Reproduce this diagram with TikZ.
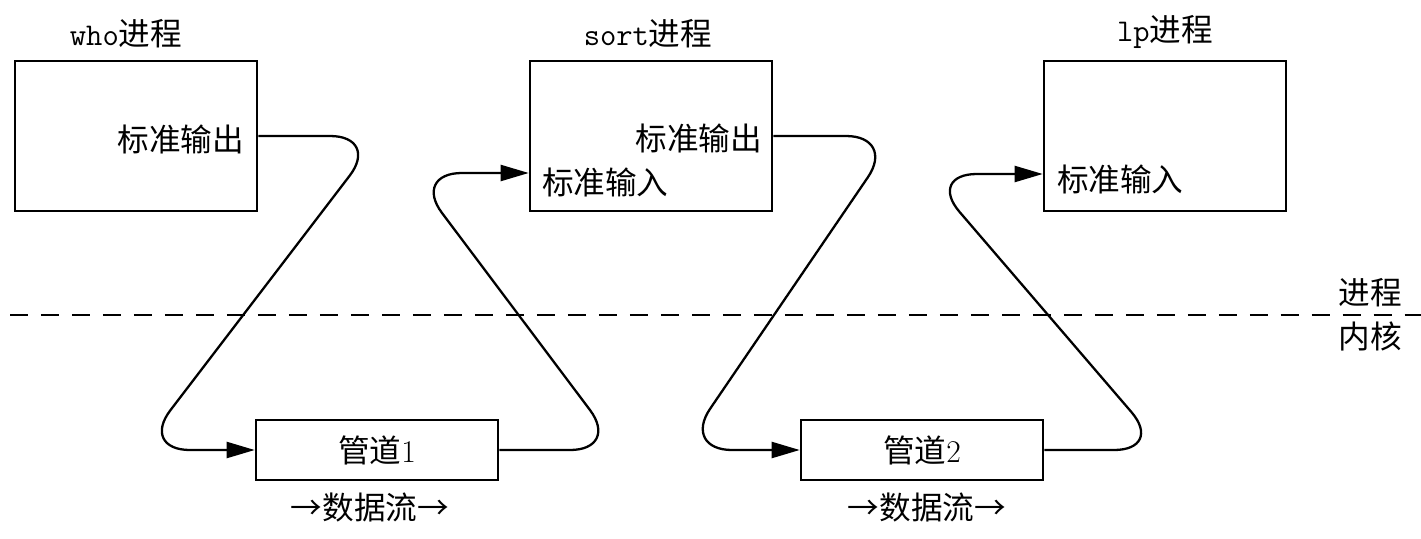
\documentclass[tikz,border=0pt]{standalone}
\usepackage{fontspec}
\newfontfamily\cjk{Noto Sans CJK SC}
\usetikzlibrary{positioning, arrows.meta}

\begin{document}
\begin{tikzpicture}[x=0.02cm, y=-0.02cm, font=\fontsize{18}{21}\selectfont]
    \tikzstyle{proc} = [rectangle, minimum width=4.84cm, minimum height=3cm, draw=black, line width=1.5pt]
    \tikzstyle{pipe} = [rectangle, minimum width=4.84cm, minimum height=1.2cm, draw=black, line width=1.5pt]
    \tikzstyle{flow} = [line width=1.3pt, rounded corners=1cm, -{Triangle[length=0.56cm, width=0.32cm]}]
    \tikzstyle{port} = [inner sep=0pt, font=\fontsize{18}{21}\selectfont\cjk]

    \useasboundingbox (0,0) rectangle (1421,538);

    % processes and pipes
    \node (who) [proc] at (136,136) {};
    \node (sort) [proc] at (651,136) {};
    \node (lp) [proc] at (1165,136) {};
    \node (pipe1) [pipe] at (377,450) {{\cjk 管道}1};
    \node (pipe2) [pipe] at (922,450) {{\cjk 管道}2};

    \node (whotitle) [inner sep=0pt, above=0.22cm of who, xshift=-0.2cm] {\ttfamily who\cjk 进程};
    \node (sorttitle) [inner sep=0pt, above=0.22cm of sort, xshift=-0.06cm] {\ttfamily sort\cjk 进程};
    \node (lptitle) [inner sep=0pt, above=0.22cm of lp] {\ttfamily lp\cjk 进程};

    % ports
    \node (whoout) [port, left=0.28cm of who.east, yshift=-0.06cm] {标准输出};
    \node (sortout) [port, left=0.22cm of sort.east, yshift=-0.04cm] {标准输出};
    \coordinate (sortin) at ([yshift=-0.74cm]sort.west);
    \coordinate (lpin) at ([yshift=-0.76cm]lp.west);
    \node (sortinlbl) [port, right=0.26cm of sortin, yshift=-0.18cm] {标准输入};
    \node (lpinlbl) [port, right=0.28cm of lpin, yshift=-0.1cm] {标准输入};

    \node (flow1) [port, below=0.22cm of pipe1, xshift=-0.14cm] {→数据流→};
    \node (flow2) [port, below=0.22cm of pipe2, xshift=0.1cm] {→数据流→};

    % user / kernel split
    \draw [line width=1.5pt, dash pattern=on 0.36cm off 0.26cm] (10,315) -- (1421,315);
    \coordinate (split) at (1370,315);
    \node (userlbl) [port, above=0.16cm of split] {进程};
    \node (kernlbl) [port, below=0.12cm of split] {内核};

    % data path
    \draw [flow] (who.east) -- (380,136) -- (140,450) -- (pipe1.west);
    \draw [flow] (pipe1.east) -- (620,450) -- (412,173) -- (sortin);
    \draw [flow] (sort.east) -- (896,136) -- (682,450) -- (pipe2.west);
    \draw [flow] (pipe2.east) -- (1164,450) -- (927,174) -- (lpin);
\end{tikzpicture}
\end{document}
